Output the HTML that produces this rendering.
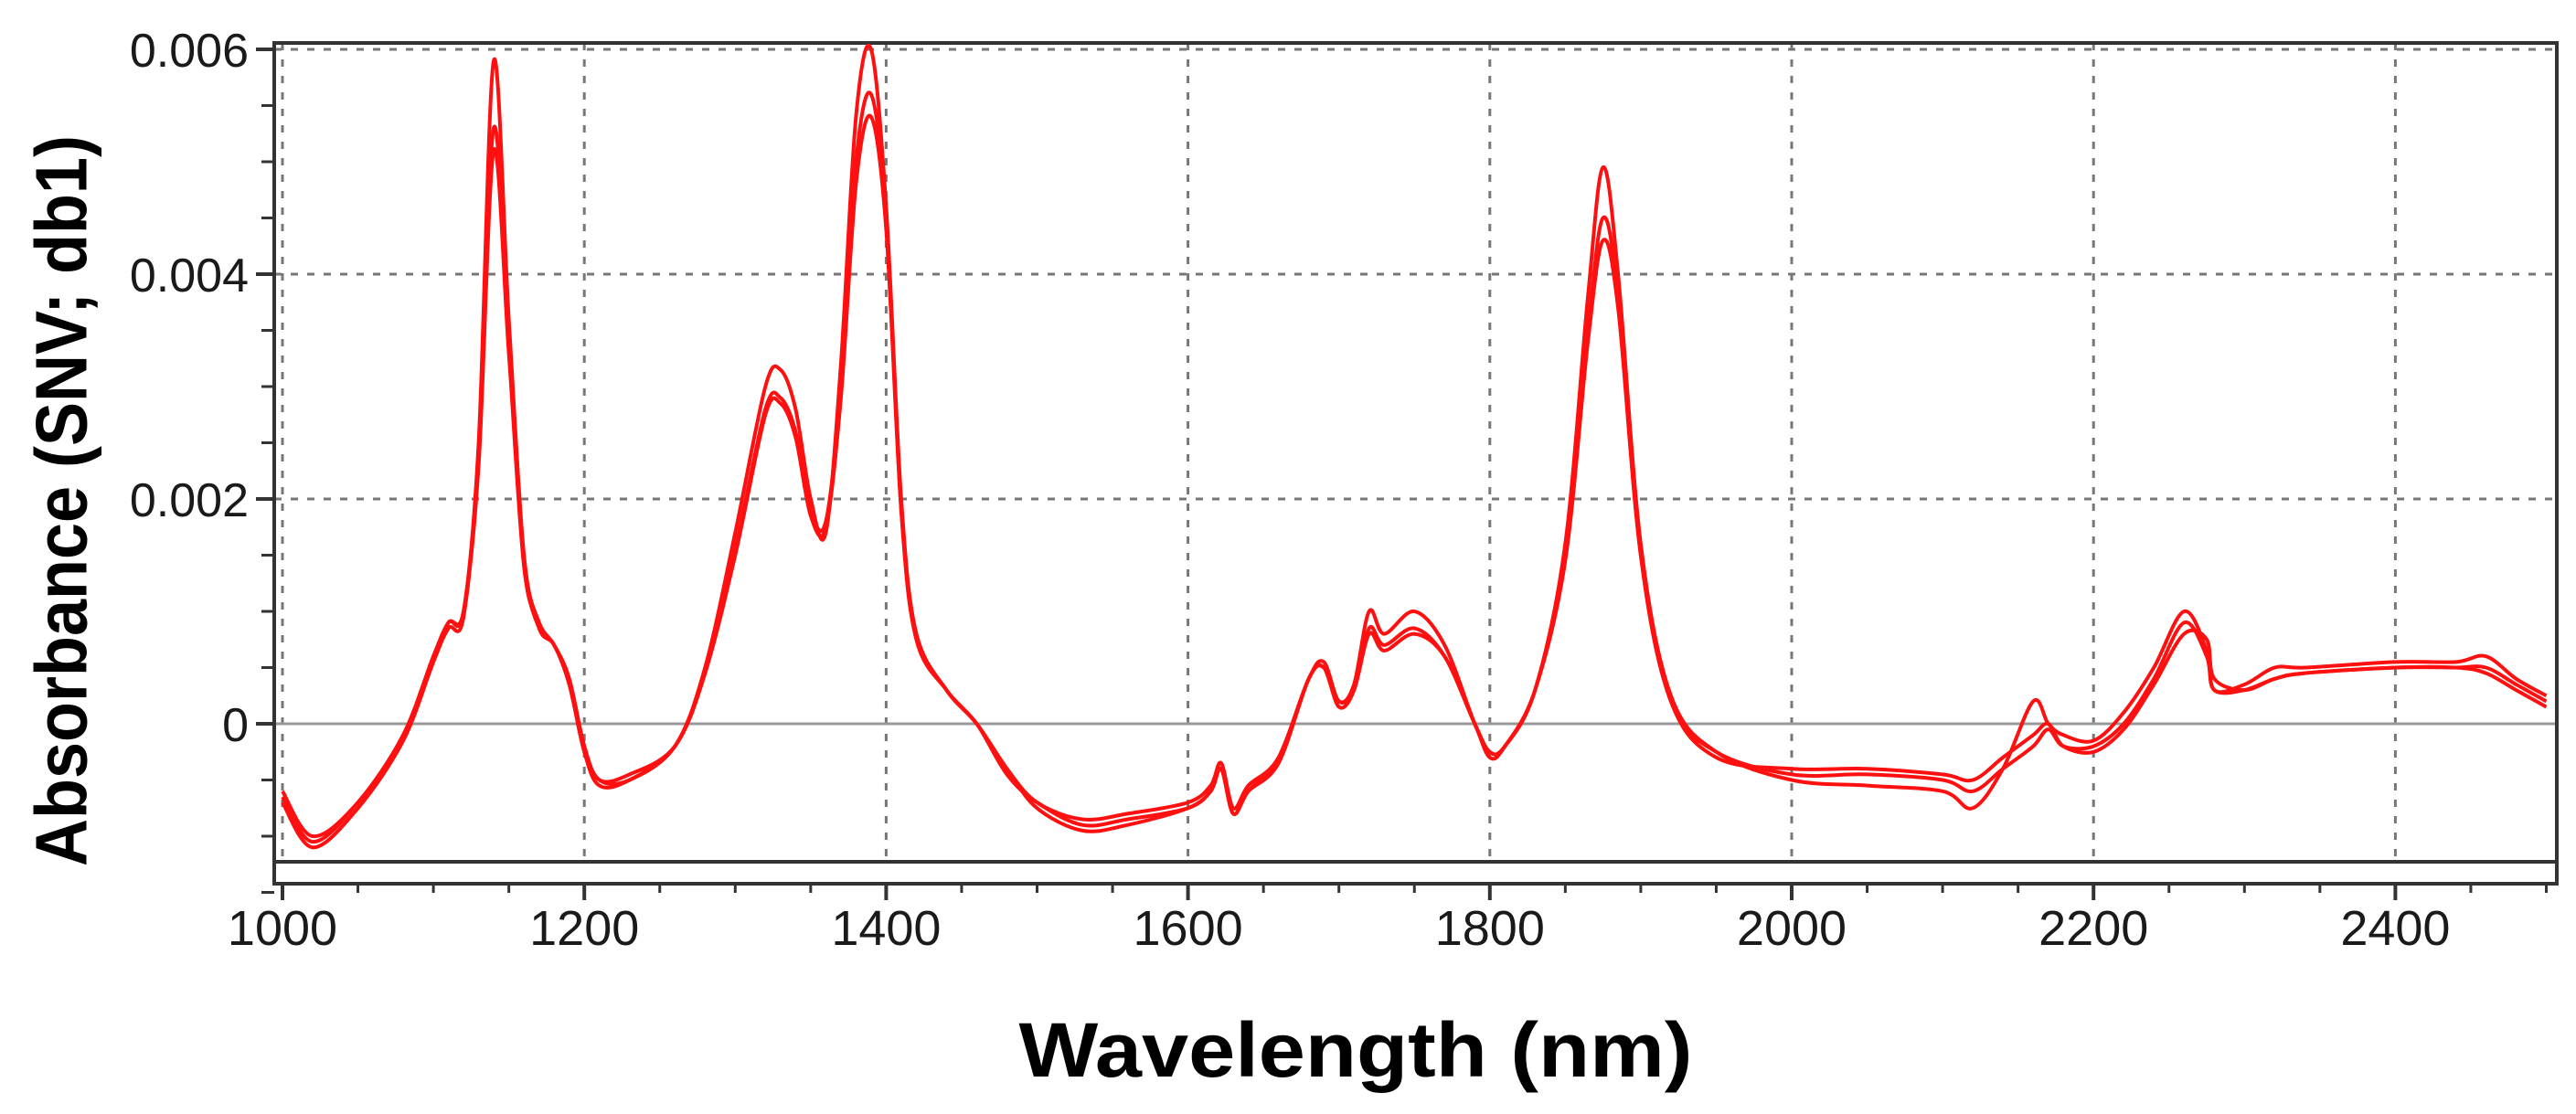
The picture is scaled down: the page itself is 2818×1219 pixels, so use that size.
<!DOCTYPE html>
<html><head><meta charset="utf-8"><style>
html,body{margin:0;padding:0;background:#fff;}
svg{display:block;}
</style></head><body>
<svg width="2818" height="1219" viewBox="0 0 2818 1219" xmlns="http://www.w3.org/2000/svg">
<g id="grid"></g>
<g id="axes"></g>
<g id="series"></g>
<text x="67" y="548" transform="rotate(-90 67 548)" text-anchor="middle" dominant-baseline="central" font-family="Liberation Sans, sans-serif" font-weight="bold" font-size="80" textLength="800" lengthAdjust="spacingAndGlyphs" fill="#000">Absorbance (SNV; db1)</text>
<text x="1483" y="1178" text-anchor="middle" font-family="Liberation Sans, sans-serif" font-weight="bold" font-size="84" textLength="737" lengthAdjust="spacingAndGlyphs" fill="#000">Wavelength (nm)</text>
</svg>
<script>
const wavelengths = [1000,1020,1050,1080,1100,1110,1120,1130,1140,1150,1160,1170,1180,1190,1200,1210,1230,1260,1280,1300,1320,1330,1340,1350,1360,1370,1380,1390,1400,1410,1420,1440,1460,1480,1500,1530,1560,1600,1615,1622,1630,1640,1660,1680,1690,1700,1710,1720,1730,1750,1770,1790,1800,1810,1830,1850,1865,1875,1885,1900,1920,1950,2000,2050,2100,2120,2140,2160,2170,2180,2200,2220,2240,2260,2275,2280,2300,2320,2340,2400,2440,2460,2480,2500];
const seriesA = [-0.6,-1.0,-0.7,-0.1,0.6,0.9,1.0,2.5,5.9,3.6,1.5,0.9,0.7,0.4,-0.2,-0.5,-0.5,-0.2,0.5,1.7,3.0,3.15,2.8,2.0,1.7,3.2,5.4,6.0,4.6,2.0,0.8,0.3,0.0,-0.4,-0.75,-0.95,-0.9,-0.75,-0.6,-0.4,-0.8,-0.6,-0.3,0.4,0.55,0.2,0.35,1.0,0.8,1.0,0.7,0.0,-0.25,-0.2,0.3,1.6,3.8,4.95,4.0,1.6,0.25,-0.25,-0.5,-0.55,-0.6,-0.75,-0.4,0.2,0.0,-0.1,-0.15,0.1,0.5,1.0,0.65,0.3,0.35,0.5,0.5,0.55,0.55,0.6,0.4,0.25];
const seriesB = [-0.7,-1.1,-0.75,-0.15,0.55,0.85,0.95,2.4,5.3,3.4,1.45,0.85,0.7,0.35,-0.25,-0.55,-0.5,-0.2,0.45,1.55,2.8,2.9,2.6,1.9,1.8,3.0,5.0,5.6,4.5,1.9,0.75,0.3,0.0,-0.45,-0.7,-0.9,-0.85,-0.75,-0.6,-0.4,-0.8,-0.6,-0.35,0.4,0.5,0.15,0.3,0.85,0.7,0.85,0.6,0.0,-0.25,-0.2,0.3,1.5,3.5,4.5,3.8,1.5,0.2,-0.25,-0.45,-0.45,-0.5,-0.6,-0.4,-0.2,-0.05,-0.2,-0.2,0.0,0.4,0.9,0.6,0.3,0.3,0.4,0.45,0.5,0.5,0.5,0.35,0.2];
const seriesC = [-0.65,-1.05,-0.7,-0.1,0.6,0.9,1.0,2.3,5.1,3.3,1.4,0.9,0.7,0.4,-0.2,-0.5,-0.45,-0.2,0.45,1.5,2.75,2.85,2.55,1.85,1.75,2.9,4.8,5.4,4.4,1.9,0.8,0.3,0.0,-0.4,-0.7,-0.85,-0.8,-0.7,-0.55,-0.35,-0.75,-0.55,-0.3,0.4,0.5,0.2,0.3,0.8,0.65,0.8,0.6,0.0,-0.3,-0.2,0.3,1.45,3.4,4.3,3.7,1.5,0.2,-0.3,-0.4,-0.4,-0.45,-0.5,-0.3,-0.1,0.0,-0.2,-0.25,-0.05,0.35,0.8,0.75,0.4,0.3,0.4,0.45,0.5,0.5,0.45,0.3,0.15];
const xTicks = [1000,1200,1400,1600,1800,2000,2200,2400];
const yTicks = [0,0.002,0.004,0.006];
const yTickLabels = ["0","0.002","0.004","0.006"];

const NS="http://www.w3.org/2000/svg";
function xs(nm){return 309+(nm-1000)*1.651;}
function ys(v){return 792-v*123;}
function mk(tag,attrs,parent){const e=document.createElementNS(NS,tag);for(const k in attrs)e.setAttribute(k,attrs[k]);parent.appendChild(e);return e;}
const grid=document.getElementById('grid'),axes=document.getElementById('axes'),ser=document.getElementById('series');

let fr=mk('rect',{x:300,y:47,width:2497,height:920,fill:'none',stroke:'#333','stroke-width':4},axes);


let bl=mk('line',{x1:300,y1:943,x2:2797,y2:943,stroke:'#333','stroke-width':4},axes);



xTicks.forEach(t=>{
  const g=mk('line',{x1:xs(t),y1:47,x2:xs(t),y2:943,stroke:'#777','stroke-width':3,'stroke-dasharray':'8 10'},grid);
  
  
  const tk=mk('line',{x1:xs(t),y1:967,x2:xs(t),y2:985,stroke:'#333','stroke-width':4},axes);
  
  
  const lb=mk('text',{x:xs(t),y:1034,'text-anchor':'middle','font-family':'Liberation Sans, sans-serif','font-size':54,fill:'#1a1a1a'},axes);
  lb.textContent=t;
  
  
});
for(let t=1050;t<=2500;t+=50){
  if(t%200===0)continue;
  const m=mk('line',{x1:xs(t),y1:967,x2:xs(t),y2:977,stroke:'#333','stroke-width':3},axes);
  
  
}
yTicks.forEach((t,i)=>{
  const y=ys(t*1000);
  if(t===0){
    const z=mk('line',{x1:300,y1:y,x2:2797,y2:y,stroke:'#999','stroke-width':3},grid);
    
    
  } else {
    const g=mk('line',{x1:300,y1:y,x2:2797,y2:y,stroke:'#777','stroke-width':3,'stroke-dasharray':'8 10'},grid);
    
    
  }
  const tk=mk('line',{x1:280,y1:y,x2:300,y2:y,stroke:'#333','stroke-width':4},axes);
  
  
  const lb=mk('text',{x:272,y:y+19,'text-anchor':'end','font-family':'Liberation Sans, sans-serif','font-size':52,fill:'#1a1a1a'},axes);
  lb.textContent=yTickLabels[i];
  
  
});
for(let v=-1.5;v<=6;v+=0.5){
  if(Number.isInteger(v/2))continue;
  const m=mk('line',{x1:286,y1:ys(v),x2:300,y2:ys(v),stroke:'#333','stroke-width':3},axes);
  
  
}

function smoothPath(pts){
  let d='M'+pts[0][0].toFixed(1)+' '+pts[0][1].toFixed(1);
  for(let i=0;i<pts.length-1;i++){
    const p0=pts[Math.max(0,i-1)],p1=pts[i],p2=pts[i+1],p3=pts[Math.min(pts.length-1,i+2)];
    const c1x=p1[0]+(p2[0]-p0[0])/6,c1y=p1[1]+(p2[1]-p0[1])/6;
    const c2x=p2[0]-(p3[0]-p1[0])/6,c2y=p2[1]-(p3[1]-p1[1])/6;
    d+=' C'+c1x.toFixed(1)+' '+c1y.toFixed(1)+' '+c2x.toFixed(1)+' '+c2y.toFixed(1)+' '+p2[0].toFixed(1)+' '+p2[1].toFixed(1);
  }
  return d;
}
[seriesA,seriesB,seriesC].forEach((s,i)=>{
  const pts=s.map((v,j)=>[xs(wavelengths[j]),ys(v)]);
  const p=mk('path',{d:smoothPath(pts),fill:'none',stroke:'#ff1010','stroke-width':4,'stroke-linejoin':'round'},ser);
  
  
});
</script>
</body></html>
